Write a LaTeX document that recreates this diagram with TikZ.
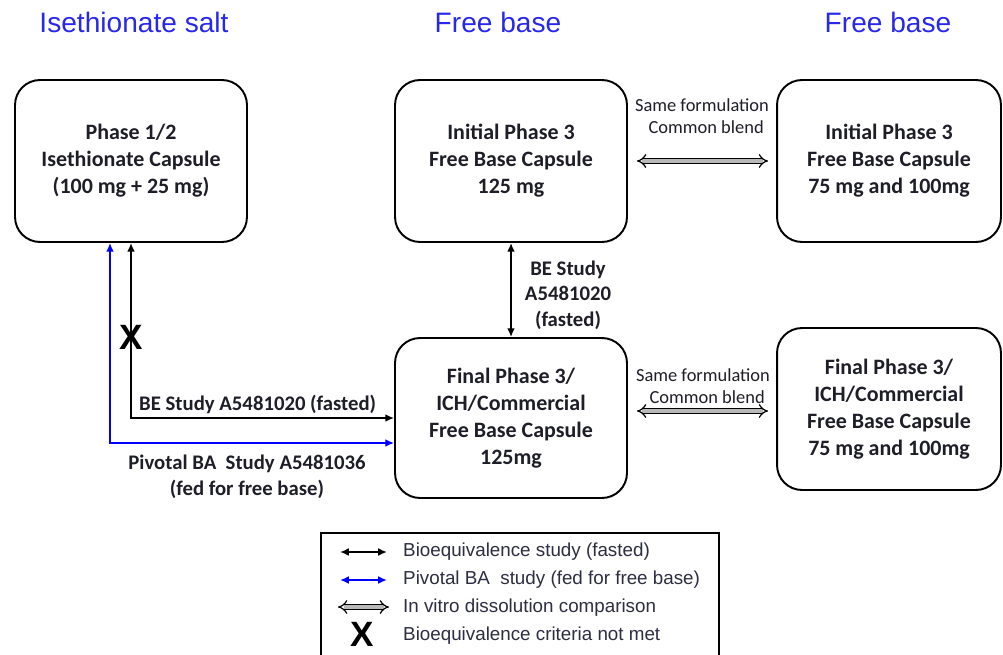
\documentclass[tikz,border=0pt]{standalone}
\usepackage{fontspec}
\setmainfont{Carlito}
\newfontfamily\arialfont{Liberation Sans}
\usetikzlibrary{arrows.meta}

\definecolor{headblue}{RGB}{40,40,235}
\definecolor{inktext}{RGB}{30,30,40}
\definecolor{keytext}{RGB}{45,45,65}

\tikzset{
  capsule/.style={draw, line width=1.1pt, rounded corners=0.5cm, align=center,
    text=inktext, inner sep=0pt, minimum width=4.64cm, minimum height=3.24cm,
    font=\bfseries\fontsize{12.5}{15.3}\selectfont},
  head/.style={text=headblue, font=\arialfont\fontsize{16}{19}\selectfont},
  note/.style={align=center, text=inktext, font=\fontsize{10.5}{12.5}\selectfont},
  study/.style={align=center, text=inktext, font=\bfseries\fontsize{11.8}{14.5}\selectfont},
  keytxt/.style={anchor=west, text=keytext, font=\arialfont\fontsize{10.7}{12}\selectfont},
  xmark/.style={inner sep=0pt, font=\arialfont\bfseries\fontsize{20}{20}\selectfont},
  studytip/.tip={Latex[length=5pt,width=4.5pt]},
  beline/.style={line width=1pt, studytip-studytip},
  baline/.style={line width=1pt, draw=blue, studytip-studytip},
  dissol/.style={line width=0.7pt, double=gray!55, double distance=2pt,
    {Implies}-{Implies}, shorten <=0.18cm, shorten >=0.16cm}
}

\begin{document}
\begin{tikzpicture}[x=0.02cm, y=-0.02cm]
  \useasboundingbox (0,0) rectangle (1003,655);

  % column headings
  \node[head] (salthead) at (134,22) {Isethionate salt};
  \node[head] (basehead) at (498,22) {Free base};
  \node[head] (basehead2) at (888,22) {Free base};

  % capsules
  \node[capsule] (phase12) at (131,161) {Phase 1/2\\Isethionate Capsule\\(100 mg + 25 mg)};
  \node[capsule] (initmid) at (511,161) {Initial Phase 3\\Free Base Capsule\\125 mg};
  \node[capsule, minimum width=4.48cm] (initright) at (889,161)
    {Initial Phase 3\\Free Base Capsule\\75 mg and 100mg};
  \node[capsule, minimum height=3.2cm] (finalmid) at (511,418)
    {Final Phase 3/\\ICH/Commercial\\Free Base Capsule\\125mg};
  \node[capsule, minimum width=4.48cm] (finalright) at (889,409)
    {Final Phase 3/\\ICH/Commercial\\Free Base Capsule\\75 mg and 100mg};

  % studies between capsules
  \draw[baline] ([xshift=-0.42cm]phase12.south) |- ([yshift=-0.5cm]finalmid.west);
  \draw[beline] (phase12.south) |- (finalmid.west);
  \draw[beline] (initmid.south) -- (finalmid.north);
  \node[xmark] (fail) at (131,337) {X};

  \node[study, anchor=west] (betext) at (133,404) {BE Study A5481020 (fasted)};
  \node[study] (batext) at (247,477) {Pivotal BA\ \ Study A5481036\\(fed for free base)};
  \node[study] (betext2) at (568,295) {BE Study\\A5481020\\(fasted)};

  % in vitro comparisons
  \draw[dissol] (initmid.east) -- (initright.west);
  \draw[dissol] ([yshift=-0.04cm]finalmid.east |- finalright.west) -- ([yshift=-0.04cm]finalright.west);
  \node[note] (same1) at (702,116) {Same formulation\\\ \ Common blend};
  \node[note] (same2) at (703,386) {Same formulation\\\ \ Common blend};

  % key
  \node[draw, line width=1.1pt, minimum width=7.96cm, minimum height=2.6cm,
    inner sep=0pt] (legend) at (520,598) {};
  \coordinate (k1a) at (340,552); \coordinate (k1b) at (387,552);
  \coordinate (k2a) at (340,580); \coordinate (k2b) at (387,580);
  \coordinate (k3a) at (338,607); \coordinate (k3b) at (389,607);
  \draw[beline] (k1a) -- (k1b);
  \draw[baline] (k2a) -- (k2b);
  \draw[dissol, shorten <=0pt, shorten >=0pt] (k3a) -- (k3b);
  \node[xmark] (keyx) at (362,634) {X};
  \node[keytxt] (key1) at (397,552) {Bioequivalence study (fasted)};
  \node[keytxt] (key2) at (397,580) {Pivotal BA\ \ study (fed for free base)};
  \node[keytxt] (key3) at (397,608) {In vitro dissolution comparison};
  \node[keytxt] (key4) at (397,636) {Bioequivalence criteria not met};
\end{tikzpicture}
\end{document}
